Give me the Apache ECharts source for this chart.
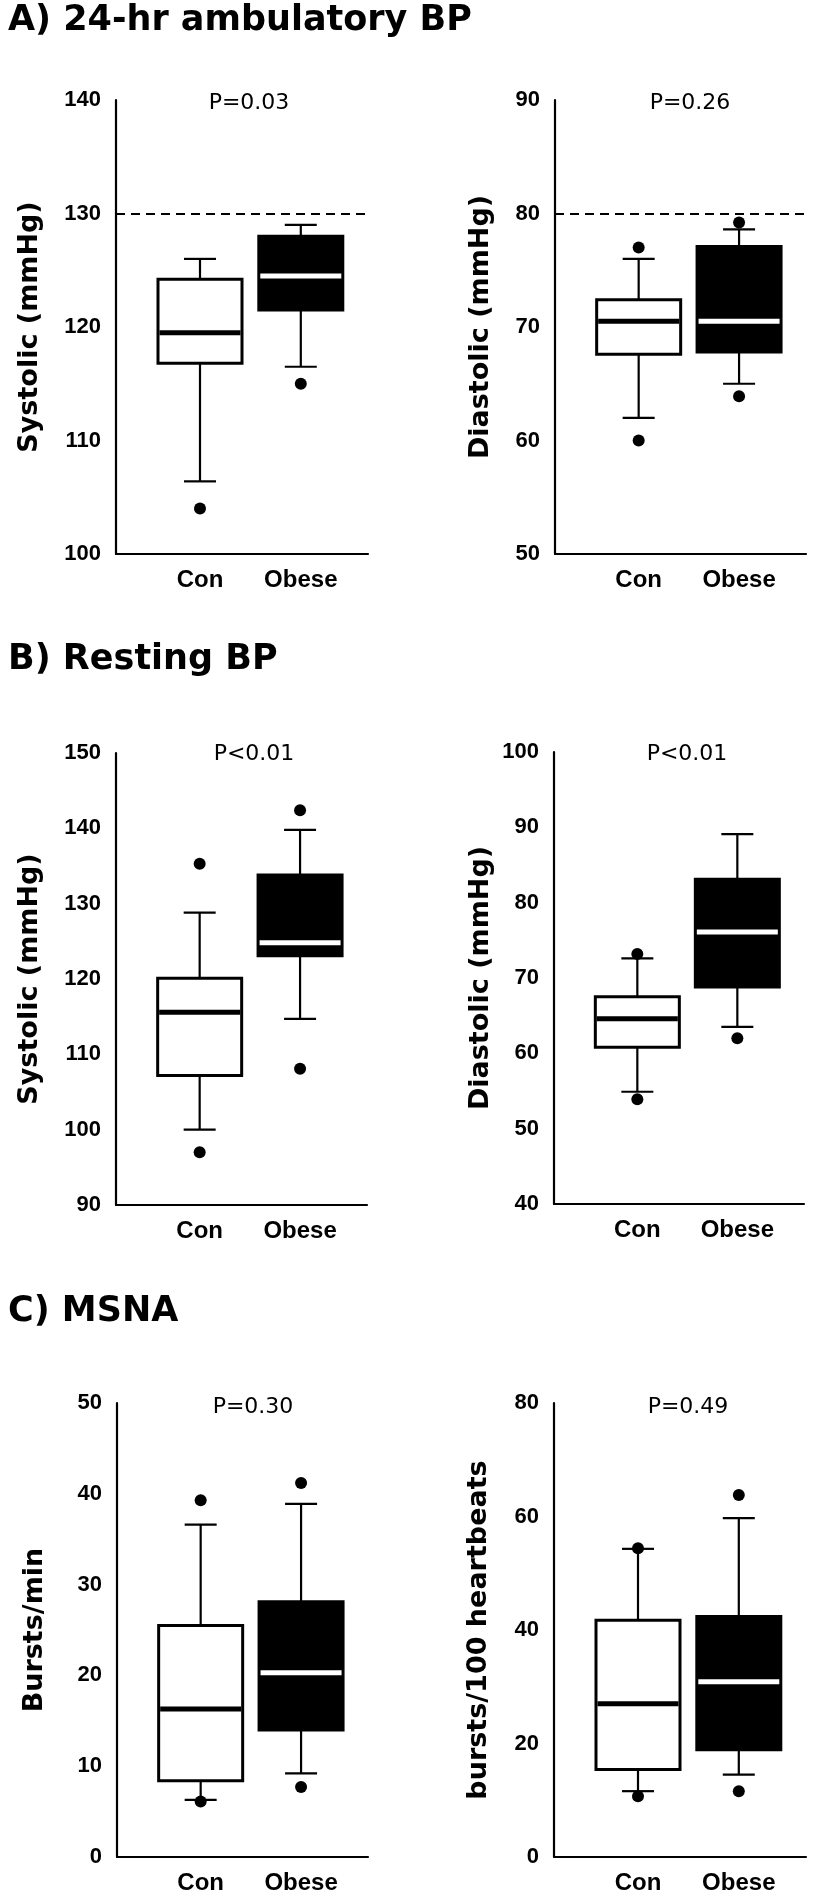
<!DOCTYPE html>
<html><head><meta charset="utf-8">
<script src="https://cdn.jsdelivr.net/npm/echarts@6/dist/echarts.min.js"></script>
<style>html,body{margin:0;padding:0;background:#fff}#c{width:813px;height:1897px}</style>
</head><body><div id="c"></div>
<script>
// ---------- DATA ----------
const groups = ['Con', 'Obese'];
// box statistics per group: [lower whisker, Q1, median, Q3, upper whisker]
const ambSystolicBox   = [[106.4, 116.8, 119.5, 124.2, 126.0], [116.5, 121.5, 124.5, 128.0, 129.0]];
const ambSystolicOut   = [[104.0], [115.0]];
const ambDiastolicBox  = [[62.0, 67.6, 70.5, 72.4, 76.0], [65.0, 67.8, 70.5, 77.1, 78.6]];
const ambDiastolicOut  = [[77.0, 60.0], [79.2, 63.9]];
const restSystolicBox  = [[100.0, 107.2, 115.6, 120.1, 128.8], [114.7, 123.1, 124.8, 133.8, 139.8]];
const restSystolicOut  = [[135.3, 97.0], [142.4, 108.1]];
const restDiastolicBox = [[54.9, 60.8, 64.6, 67.5, 72.6], [63.5, 68.8, 76.1, 83.1, 89.1]];
const restDiastolicOut = [[73.2, 53.9], [62.0]];
const msnaFreqBox      = [[6.3, 8.4, 16.3, 25.5, 36.6], [9.2, 14.0, 20.3, 28.1, 38.9]];
const msnaFreqOut      = [[39.3, 6.1], [41.2, 7.7]];
const msnaIncBox       = [[11.6, 15.4, 27.0, 41.7, 54.3], [14.5, 18.9, 30.9, 42.4, 59.7]];
const msnaIncOut       = [[54.4, 10.7], [63.8, 11.6]];
const ambSystolicThreshold = 130;
const ambDiastolicThreshold = 80;
const sectionTitles = ['A) 24-hr ambulatory BP', 'B) Resting BP', 'C) MSNA'];
const pValues = ['P=0.03', 'P=0.26', 'P<0.01', 'P<0.01', 'P=0.30', 'P=0.49'];
const yNames = ['Systolic (mmHg)', 'Diastolic (mmHg)', 'Systolic (mmHg)', 'Diastolic (mmHg)', 'Bursts/min', 'bursts/100 heartbeats'];
const yMin = [100, 50, 90, 40, 0, 0];
const yMax = [140, 90, 150, 100, 50, 80];
const yStep = [10, 10, 10, 10, 10, 20];

// ---------- LAYOUT ----------
const GROUP_X = [1, 2.2];   // horizontal slot of each group on a 0..3 axis
const grids = [
  {left: 116, top: 100, width: 252, height: 454},
  {left: 555, top: 100, width: 251, height: 454},
  {left: 116, top: 753, width: 251, height: 452},
  {left: 554, top: 752, width: 250, height: 452},
  {left: 117, top: 1403, width: 251, height: 454},
  {left: 554, top: 1403, width: 252, height: 454}
];
const nameGaps = [73, 61, 73, 60, 69, 62];
const titlePos = [[8, 21], [8, 660], [8, 1312]];
const pPos = [[249, 103], [690, 103], [254, 754], [687, 754], [253, 1407], [688, 1407]];

const panels = [
  {box: ambSystolicBox, out: ambSystolicOut, ref: ambSystolicThreshold},
  {box: ambDiastolicBox, out: ambDiastolicOut, ref: ambDiastolicThreshold},
  {box: restSystolicBox, out: restSystolicOut},
  {box: restDiastolicBox, out: restDiastolicOut},
  {box: msnaFreqBox, out: msnaFreqOut},
  {box: msnaIncBox, out: msnaIncOut}
];

function renderBox(params, api) {
  const x = api.value(0), gi = api.value(6);
  const lo = api.coord([x, api.value(1)]);
  const q1 = api.coord([x, api.value(2)]);
  const md = api.coord([x, api.value(3)]);
  const q3 = api.coord([x, api.value(4)]);
  const hi = api.coord([x, api.value(5)]);
  const cx = lo[0], bw = 84, cw = 32;
  const dark = gi === 1;
  const line = (x1, y1, x2, y2, stroke, lw) => ({type: 'line', shape: {x1, y1, x2, y2}, style: {stroke, lineWidth: lw}});
  return {type: 'group', children: [
    line(cx, hi[1], cx, q3[1], '#000', 2.2),
    line(cx, q1[1], cx, lo[1], '#000', 2.2),
    line(cx - cw / 2, hi[1], cx + cw / 2, hi[1], '#000', 2.2),
    line(cx - cw / 2, lo[1], cx + cw / 2, lo[1], '#000', 2.2),
    {type: 'rect', shape: {x: cx - bw / 2, y: q3[1], width: bw, height: q1[1] - q3[1]},
     style: {fill: dark ? '#000' : '#fff', stroke: '#000', lineWidth: 3}},
    line(cx - bw / 2 + 1.5, md[1], cx + bw / 2 - 1.5, md[1], dark ? '#fff' : '#000', 5)
  ]};
}

const option = {
  animation: false,
  backgroundColor: '#fff',
  grid: grids.map(g => Object.assign({containLabel: false}, g)),
  xAxis: grids.map((g, k) => ({
    gridIndex: k, type: 'value', min: 0, max: 3, interval: 0.2,
    axisLine: {show: true, onZero: false, lineStyle: {color: '#000', width: 2.2}},
    axisTick: {show: false}, splitLine: {show: false},
    axisLabel: {
      color: '#000', fontFamily: 'Liberation Sans', fontWeight: 'bold', fontSize: 24, margin: 14,
      formatter: v => {
        for (let i = 0; i < GROUP_X.length; i++) if (Math.abs(v - GROUP_X[i]) < 1e-6) return groups[i];
        return '';
      }
    }
  })),
  yAxis: grids.map((g, k) => ({
    gridIndex: k, type: 'value', min: yMin[k], max: yMax[k], interval: yStep[k],
    axisLine: {show: true, onZero: false, lineStyle: {color: '#000', width: 2.2}},
    axisTick: {show: false}, splitLine: {show: false},
    axisLabel: {color: '#000', fontFamily: 'Liberation Sans', fontWeight: 'bold', fontSize: 22, margin: 15},
    name: yNames[k], nameLocation: 'middle', nameGap: nameGaps[k],
    nameTextStyle: {color: '#000', fontFamily: 'DejaVu Sans', fontWeight: 'bold', fontSize: 27}
  })),
  series: [],
  graphic: []
};

panels.forEach((p, k) => {
  option.series.push({
    type: 'custom', xAxisIndex: k, yAxisIndex: k, z: 2,
    renderItem: renderBox,
    data: groups.map((g, i) => [GROUP_X[i]].concat(p.box[i], [i]))
  });
  const outData = [];
  p.out.forEach((vals, i) => vals.forEach(v => outData.push([GROUP_X[i], v])));
  const sc = {
    type: 'scatter', xAxisIndex: k, yAxisIndex: k, z: 3,
    symbol: 'circle', symbolSize: 12, itemStyle: {color: '#000', opacity: 1},
    emphasis: {disabled: true},
    data: outData
  };
  if (p.ref !== undefined) {
    sc.markLine = {
      silent: true, symbol: 'none', label: {show: false},
      lineStyle: {color: '#000', width: 2, type: [9, 6], opacity: 1},
      data: [{yAxis: p.ref}]
    };
  }
  option.series.push(sc);
  option.graphic.push({
    type: 'text', x: pPos[k][0], y: pPos[k][1],
    style: {text: pValues[k], fill: '#000', font: '22px "DejaVu Sans"', textAlign: 'center', textVerticalAlign: 'middle'}
  });
});
sectionTitles.forEach((t, i) => {
  option.graphic.push({
    type: 'text', x: titlePos[i][0], y: titlePos[i][1],
    style: {text: t, fill: '#000', font: 'bold 35px "DejaVu Sans"', textAlign: 'left', textVerticalAlign: 'middle'}
  });
});

const chart = echarts.init(document.getElementById('c'), null, {renderer: 'canvas'});
chart.setOption(option);
</script>
</body></html>
